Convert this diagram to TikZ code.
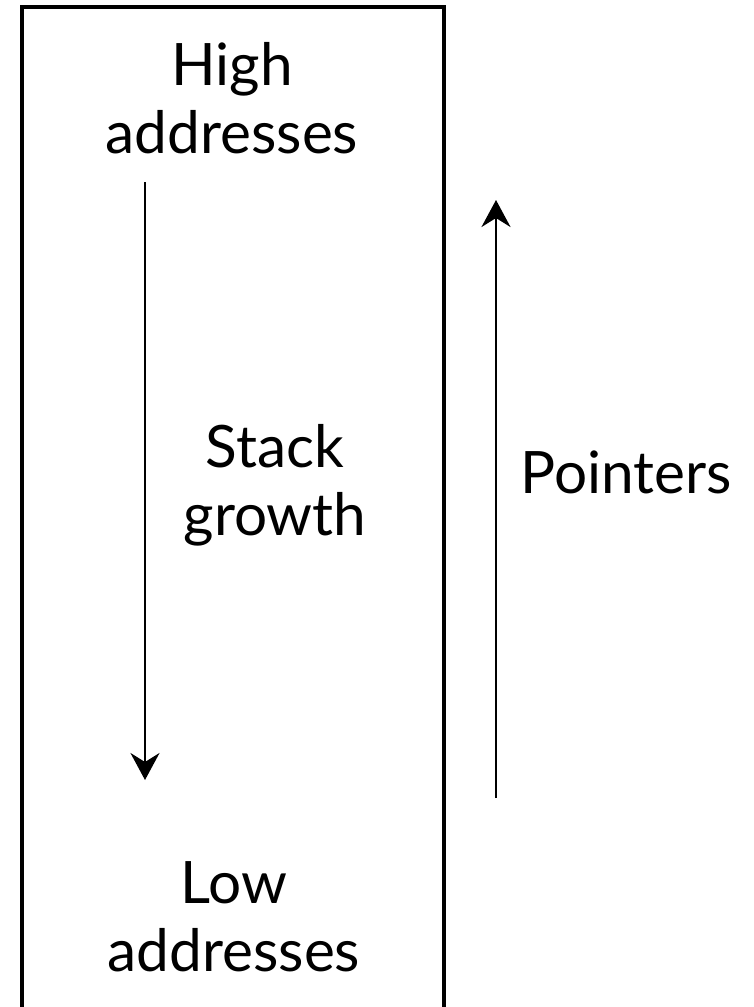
\documentclass[tikz,border=0pt]{standalone}
\usepackage{fontspec}
\setmainfont{Lato}
\usetikzlibrary{arrows.meta}
\tikzset{
  label/.style={font=\fontsize{58.5}{68}\selectfont, inner sep=0pt, align=center},
  frame/.style={draw=black, line width=4pt},
  growarrow/.style={line width=2.6pt, -{Stealth[length=27pt, width=29pt, inset=9pt]}}
}
\begin{document}
\begin{tikzpicture}[x=1pt, y=-1pt]
  \useasboundingbox (0,0) rectangle (753,1007);
  \clip (0,0) rectangle (753,1007);
  % memory region, open past the lower edge
  \draw[frame] (22,1030) -- (22,6.5) -- (443.7,6.5) -- (443.7,1030);
  % labels (anchored on the baseline of their last line)
  \node[label, anchor=base] (high) at (232,153) {High\\addresses};
  \node[label, anchor=base] (stack) at (275,535) {Stack\\growth};
  \node[label, anchor=base] (ptr) at (626,493) {Pointers};
  \node[label, anchor=base] (low) at (234,971) {Low\\addresses};
  % direction arrows
  \coordinate (sgtop) at (145,182);
  \coordinate (sgbot) at (145,780);
  \coordinate (ptbot) at (496,798);
  \coordinate (pttop) at (496,200);
  \draw[growarrow] (sgtop) -- (sgbot);
  \draw[growarrow] (ptbot) -- (pttop);
\end{tikzpicture}
\end{document}
